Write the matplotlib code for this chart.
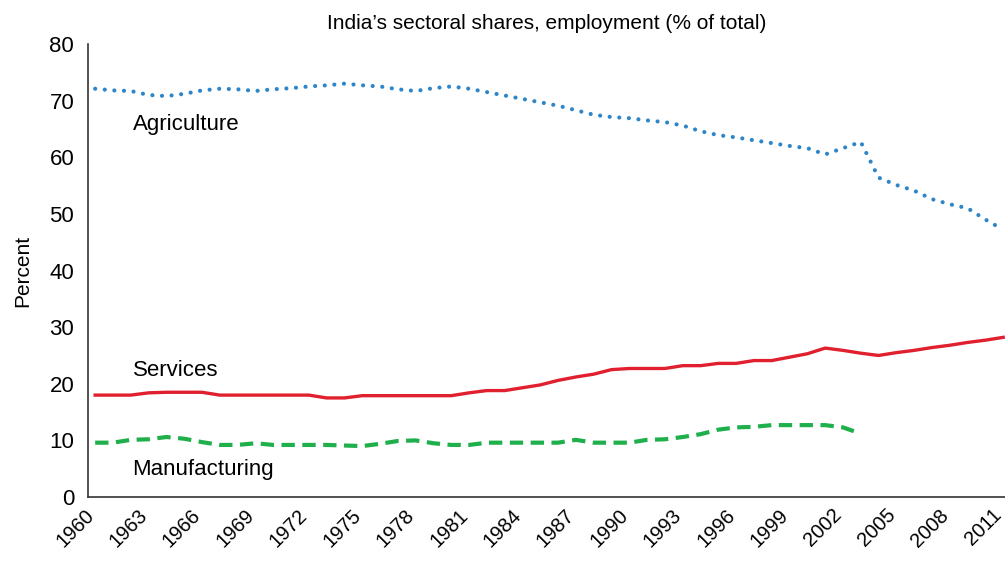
import matplotlib
matplotlib.use("Agg")
import matplotlib.pyplot as plt
import matplotlib.transforms as mtransforms
import numpy as np

plt.rcParams['font.family'] = ['Liberation Sans Narrow', 'Liberation Sans', 'DejaVu Sans']

years = list(range(1960, 2012))

agriculture = [72.1, 71.8, 71.7, 71.0, 70.8, 71.2, 71.8, 72.1, 72.0, 71.7,
               72.0, 72.2, 72.5, 72.7, 73.0, 72.7, 72.5, 72.0, 71.7, 72.2,
               72.5, 72.1, 71.5, 70.9, 70.3, 69.7, 69.1, 68.3, 67.5, 67.1,
               66.9, 66.5, 66.2, 65.6, 64.6, 63.9, 63.5, 63.0, 62.5, 62.0,
               61.6, 60.5, 61.6, 62.7, 56.4, 55.1, 54.1, 52.6, 51.7, 51.0,
               49.0, 47.2]

services = [18.0, 18.0, 18.0, 18.4, 18.5, 18.5, 18.5, 18.0, 18.0, 18.0,
            18.0, 18.0, 18.0, 17.5, 17.5, 17.9, 17.9, 17.9, 17.9, 17.9,
            17.9, 18.4, 18.8, 18.8, 19.3, 19.8, 20.6, 21.2, 21.7, 22.5,
            22.7, 22.7, 22.7, 23.2, 23.2, 23.6, 23.6, 24.1, 24.1, 24.7,
            25.3, 26.3, 25.9, 25.4, 25.0, 25.5, 25.9, 26.4, 26.8, 27.3,
            27.7, 28.2]

# manufacturing series stops in 2003
manufacturing = [9.6, 9.6, 10.1, 10.2, 10.6, 10.3, 9.7, 9.2, 9.2, 9.5,
                 9.2, 9.2, 9.2, 9.2, 9.1, 9.0, 9.4, 9.9, 10.0, 9.5,
                 9.2, 9.2, 9.6, 9.6, 9.6, 9.6, 9.6, 10.1, 9.6, 9.6,
                 9.6, 10.1, 10.2, 10.6, 11.1, 11.9, 12.3, 12.4, 12.7, 12.7,
                 12.7, 12.7, 12.3, 11.2]
manufacturing = manufacturing + [np.nan] * (len(years) - len(manufacturing))

xticks = list(range(1960, 2012, 3))

fig = plt.figure(figsize=(10.05, 5.61), dpi=100)
ax = fig.add_axes([0.0876, 0.114, 0.9124, 0.8076])

ax.plot(years, agriculture, color='#2E86C8', lw=3.0,
        linestyle=(0, (0.01, 2.3)), dash_capstyle='round')
ax.plot(years, services, color='#E0202E', lw=2.4, solid_joinstyle='round')
ax.plot(years, manufacturing, color='#1FAF4B', lw=3.0,
        linestyle=(0, (3.2, 1.8)))

ax.text(1962.1, 65.7, 'Agriculture', fontsize=16, va='center', ha='left')
ax.text(1962.1, 22.3, 'Services', fontsize=16, va='center', ha='left')
ax.text(1962.1, 4.9, 'Manufacturing', fontsize=16, va='center', ha='left')

ax.set_xlim(1959.6, 2011.1)
ax.set_ylim(0, 80)
ax.set_yticks(range(0, 81, 10))
ax.set_xticks(xticks)
ax.set_xticklabels([str(x) for x in xticks], rotation=45, ha='right',
                   rotation_mode='anchor', fontsize=14.5)
ax.tick_params(axis='y', labelsize=16, length=0, pad=10)
ax.tick_params(axis='x', length=0, pad=6)

# nudge rotated year labels left so the last one stays inside the figure
shift = mtransforms.ScaledTranslation(-11 / 100, 0, fig.dpi_scale_trans)
for lbl in ax.get_xticklabels():
    lbl.set_transform(lbl.get_transform() + shift)

ax.set_ylabel('Percent', fontsize=15, labelpad=12)
ax.set_title("India\u2019s sectoral shares, employment (% of total)",
             fontsize=15, pad=11)

for s in ['top', 'right']:
    ax.spines[s].set_visible(False)
for s in ['left', 'bottom']:
    ax.spines[s].set_color('#333333')
    ax.spines[s].set_linewidth(1.2)

fig.savefig('out.png', dpi=100)
